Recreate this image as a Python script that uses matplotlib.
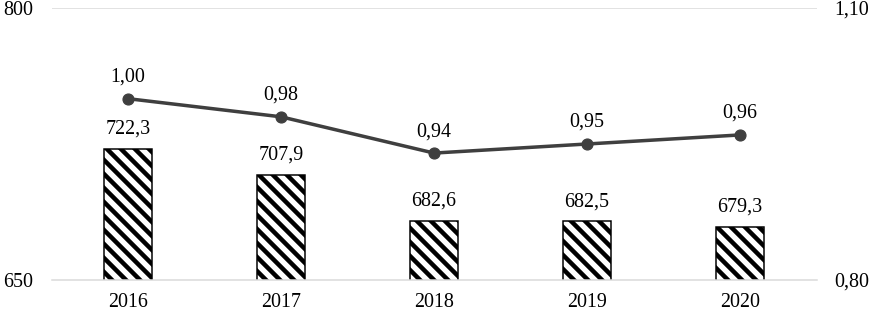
import numpy as np
import matplotlib.pyplot as plt

years = ["2016", "2017", "2018", "2019", "2020"]
bar_values = [722.3, 707.9, 682.6, 682.5, 679.3]
line_values = [1.00, 0.98, 0.94, 0.95, 0.96]

DPI = 84


def px(v):
    return v * 72 / DPI


plt.rcParams['font.family'] = ['Liberation Serif', 'DejaVu Serif']
plt.rcParams['hatch.linewidth'] = px(4.5)
plt.rcParams['hatch.color'] = 'black'

fig = plt.figure(figsize=(874 / DPI, 315 / DPI), dpi=DPI)
ax = fig.add_axes([51.5 / 874, 35 / 315, 765 / 874, 272 / 315])
ax2 = ax.twinx()

x = np.arange(len(years))
fs = px(20)

ax.bar(x, bar_values, width=0.32, bottom=0, color='white', edgecolor='black',
       linewidth=px(1.5), hatch='\\\\', zorder=2)
for xi, v in zip(x, bar_values):
    ax.annotate(f"{v:.1f}".replace('.', ','), (xi, v), xytext=(0, px(10)),
                textcoords='offset points', ha='center', va='bottom', fontsize=fs)

ax.set_ylim(650, 800)
ax.set_xlim(-0.5, len(years) - 0.5)
ax.set_yticks([650, 800])
ax.set_yticklabels(["650", "800"])
ax.set_xticks(x)
ax.set_xticklabels(years)
ax.tick_params(axis='both', length=0, labelsize=fs)
ax.tick_params(axis='y', pad=px(18))
ax.tick_params(axis='x', pad=px(13))
ax.axhline(800, color='#d9d9d9', linewidth=px(1.5), zorder=1)
for s in ['top', 'left', 'right']:
    ax.spines[s].set_visible(False)
ax.spines['bottom'].set_color('#d9d9d9')
ax.spines['bottom'].set_linewidth(px(1.5))

ax2.plot(x, line_values, color='#3f3f3f', linewidth=px(3.5), marker='o',
         markersize=px(11), zorder=3)
for xi, v in zip(x, line_values):
    ax2.annotate(f"{v:.2f}".replace('.', ','), (xi, v), xytext=(0, px(12)),
                 textcoords='offset points', ha='center', va='bottom', fontsize=fs)
ax2.set_ylim(0.80, 1.10)
ax2.set_yticks([0.80, 1.10])
ax2.set_yticklabels(["0,80", "1,10"])
ax2.tick_params(axis='y', length=0, labelsize=fs, pad=px(18))
for s in ['top', 'left', 'right', 'bottom']:
    ax2.spines[s].set_visible(False)

fig.savefig("out.png", dpi=DPI)
